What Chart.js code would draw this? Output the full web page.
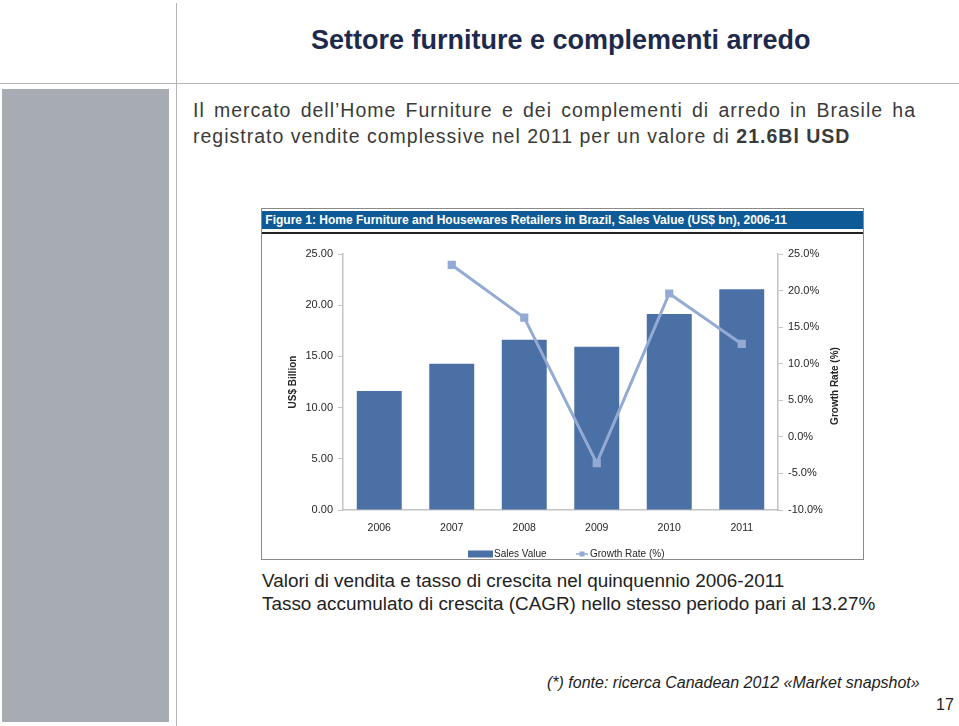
<!DOCTYPE html>
<html>
<head>
<meta charset="utf-8">
<script src="https://cdn.jsdelivr.net/npm/chart.js@4.4.1/dist/chart.umd.min.js"></script>
<style>
    body { margin:0; width:959px; height:726px; background:#fff; position:relative; overflow:hidden;
           font-family:"Liberation Sans", Arial, sans-serif; }
    .abs { position:absolute; }
    #greyBox { left:2px; top:89px; width:167px; height:633px; background:#a7acb3; }
    #vLine { left:176px; top:3px; width:1px; height:723px; background:#b4b4b4; }
    #hLine { left:0; top:83px; width:959px; height:1px; background:#b4b4b4; }
    #title { left:311px; top:25px; font-size:27px; font-weight:bold; color:#1e2a4c; white-space:nowrap; }
    .para { left:193px; font-size:19.5px; color:#3a3a3a; white-space:nowrap; letter-spacing:1px; }
    #para1 { width:723px; text-align:justify; text-align-last:justify; }
    #frame { left:261px; top:208px; width:601px; height:350px; border:1.5px solid #8a8a8a; }
    #header { left:262px; top:211px; width:601px; height:18px; background:#0d5a96; color:#fff;
              font-size:12px; font-weight:bold; line-height:18px; white-space:nowrap; }
    #headerLine { left:262px; top:232px; width:601px; height:1.5px; background:#222; }
    #chartBox { left:262px; top:235px; width:601px; height:324px; }
    .note { left:262px; font-size:18.9px; color:#222; white-space:nowrap; }
    #fonte { left:547px; top:674px; font-size:16px; font-style:italic; color:#222; white-space:nowrap; }
    #page { left:936px; top:696px; font-size:16px; color:#222; }
</style>
</head>
<body>
<div class="abs" id="greyBox"></div>
<div class="abs" id="vLine"></div>
<div class="abs" id="hLine"></div>
<div class="abs" id="title">Settore furniture e complementi arredo</div>
<div class="abs para" id="para1" style="top:99px;">Il mercato dell’Home Furniture e dei complementi di arredo in Brasile ha</div>
<div class="abs para" style="top:125px;">registrato vendite complessive nel 2011 per un valore di <b>21.6Bl USD</b></div>

<div class="abs" id="frame"></div>
<div class="abs" id="header">&nbsp;Figure 1: Home Furniture and Housewares Retailers in Brazil, Sales Value (US$ bn), 2006-11</div>
<div class="abs" id="headerLine"></div>
<div class="abs" id="chartBox"><canvas id="salesChart"></canvas></div>

<div class="abs note" style="top:570px;">Valori di vendita e tasso di crescita nel quinquennio 2006-2011</div>
<div class="abs note" style="top:593px;">Tasso accumulato di crescita (CAGR) nello stesso periodo pari al 13.27%</div>
<div class="abs" id="fonte">(*) fonte: ricerca Canadean 2012 «Market snapshot»</div>
<div class="abs" id="page">17</div>

<script>
var years = ["2006", "2007", "2008", "2009", "2010", "2011"];
var salesValue = [11.62, 14.29, 16.63, 15.95, 19.14, 21.55];
var growthRate = [null, 23.5, 16.3, -3.6, 19.6, 12.7];
var salesTicks = [0, 5, 10, 15, 20, 25];
var growthTicks = [-10, -5, 0, 5, 10, 15, 20, 25];

var barColor = "#4a70a6";
var lineColor = "#93abd4";
var axisColor = "#c4c4c4";
var textColor = "#262626";
var fontName = "'Liberation Sans', Arial, sans-serif";

// axis titles and legend, drawn like in the original picture
var extrasPlugin = {
    id: "extras",
    afterDraw: function(chart) {
        var ctx = chart.ctx;
        var area = chart.chartArea;
        var midY = (area.top + area.bottom) / 2;
        ctx.save();
        ctx.fillStyle = textColor;
        ctx.font = "bold 10px " + fontName;
        ctx.textAlign = "center";
        ctx.textBaseline = "middle";

        ctx.save();
        ctx.translate(31, midY);
        ctx.rotate(-Math.PI / 2);
        ctx.fillText("US$ Billion", 0, 0);
        ctx.restore();

        ctx.save();
        ctx.translate(573, midY + 4);
        ctx.rotate(-Math.PI / 2);
        ctx.fillText("Growth Rate (%)", 0, 0);
        ctx.restore();

        // legend
        var ly = 319;
        ctx.fillStyle = barColor;
        ctx.fillRect(206, ly - 3.5, 25, 7);
        ctx.fillStyle = textColor;
        ctx.font = "10px " + fontName;
        ctx.textAlign = "left";
        ctx.fillText("Sales Value", 232, ly + 0.5);

        ctx.strokeStyle = lineColor;
        ctx.lineWidth = 1.5;
        ctx.beginPath();
        ctx.moveTo(314, ly);
        ctx.lineTo(326, ly);
        ctx.stroke();
        ctx.fillStyle = lineColor;
        ctx.fillRect(317.5, ly - 2.5, 5, 5);
        ctx.fillStyle = textColor;
        ctx.fillText("Growth Rate (%)", 328, ly + 0.5);
        ctx.restore();
    }
};

var ctx = document.getElementById("salesChart");
var salesChart = new Chart(ctx, {
    type: "bar",
    data: {
        labels: years,
        datasets: [
            {
                type: "line",
                label: "Growth Rate (%)",
                data: growthRate,
                yAxisID: "yGrowth",
                borderColor: lineColor,
                backgroundColor: lineColor,
                borderWidth: 3,
                pointStyle: "rect",
                pointRadius: 5.8,
                pointHoverRadius: 5.8,
                pointBorderWidth: 0,
                tension: 0,
                order: 0
            },
            {
                label: "Sales Value",
                data: salesValue,
                yAxisID: "ySales",
                backgroundColor: barColor,
                borderWidth: 0,
                categoryPercentage: 1,
                barPercentage: 0.62,
                order: 1
            }
        ]
    },
    options: {
        responsive: true,
        maintainAspectRatio: false,
        animation: false,
        layout: { padding: { top: 19, left: 0, right: 0, bottom: 0 } },
        plugins: {
            legend: { display: false },
            tooltip: { enabled: false }
        },
        scales: {
            x: {
                offset: true,
                grid: { display: false },
                border: { display: true, color: axisColor, width: 1.5 },
                ticks: { color: textColor, font: { family: fontName, size: 10.5 }, padding: 4 },
                afterFit: function(scale) { scale.height = 49; }
            },
            ySales: {
                position: "left",
                min: 0,
                max: 25,
                afterBuildTicks: function(scale) {
                    scale.ticks = salesTicks.map(function(v) { return { value: v }; });
                },
                grid: { display: true, drawOnChartArea: false, drawTicks: true, tickLength: 5, color: axisColor },
                border: { display: true, color: axisColor, width: 1.5 },
                ticks: {
                    color: textColor,
                    font: { family: fontName, size: 11 },
                    padding: 5,
                    callback: function(v) { return Number(v).toFixed(2); }
                },
                afterFit: function(scale) { scale.width = 81; }
            },
            yGrowth: {
                position: "right",
                min: -10,
                max: 25,
                afterBuildTicks: function(scale) {
                    scale.ticks = growthTicks.map(function(v) { return { value: v }; });
                },
                grid: { display: true, drawOnChartArea: false, drawTicks: true, tickLength: 5, color: axisColor },
                border: { display: true, color: axisColor, width: 1.5 },
                ticks: {
                    color: textColor,
                    font: { family: fontName, size: 11 },
                    padding: 5,
                    callback: function(v) { return Number(v).toFixed(1) + "%"; }
                },
                afterFit: function(scale) { scale.width = 85; }
            }
        }
    },
    plugins: [extrasPlugin]
});
</script>
</body>
</html>
